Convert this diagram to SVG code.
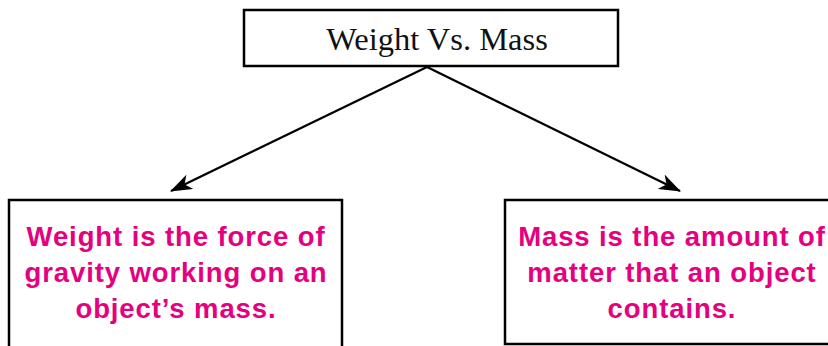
<svg xmlns="http://www.w3.org/2000/svg" width="828" height="346" viewBox="0 0 828 346">
<style>
.box{fill:#fff;stroke:#000;stroke-width:2.5}
.title{font-family:"Liberation Serif",serif;font-size:32.5px;fill:#111;text-anchor:middle}
.desc{font-family:"Liberation Sans",Arial,sans-serif;font-weight:bold;font-size:27.5px;letter-spacing:0.9px;fill:#E5007E;text-anchor:middle}
.conn{stroke:#000;stroke-width:2.3;fill:none}
</style>
<defs>
<marker id="ah" viewBox="0 0 22 16" refX="21" refY="8" markerWidth="22" markerHeight="16" markerUnits="userSpaceOnUse" orient="auto">
<path d="M0,0 L22,8 L0,16 L6,8 Z" fill="#000"/>
</marker>
</defs>
<rect width="828" height="346" fill="#fff"/>
<g id="connectors">
<line class="conn" x1="427" y1="67" x2="171" y2="191" marker-end="url(#ah)"/>
<line class="conn" x1="427" y1="67" x2="680" y2="191" marker-end="url(#ah)"/>
</g>
<g id="node-title">
<rect class="box" x="244" y="10" width="374" height="56"/>
<text class="title" x="437" y="50">Weight Vs. Mass</text>
</g>
<g id="node-weight">
<rect class="box" x="9" y="200" width="333" height="160"/>
<text class="desc" x="176" y="246">Weight is the force of</text>
<text class="desc" x="176" y="282">gravity working on an</text>
<text class="desc" x="176" y="318">object’s mass.</text>
</g>
<g id="node-mass">
<rect class="box" x="505" y="200" width="340" height="144"/>
<text class="desc" x="672" y="246">Mass is the amount of</text>
<text class="desc" x="672" y="282">matter that an object</text>
<text class="desc" x="672" y="318">contains.</text>
</g>
</svg>
